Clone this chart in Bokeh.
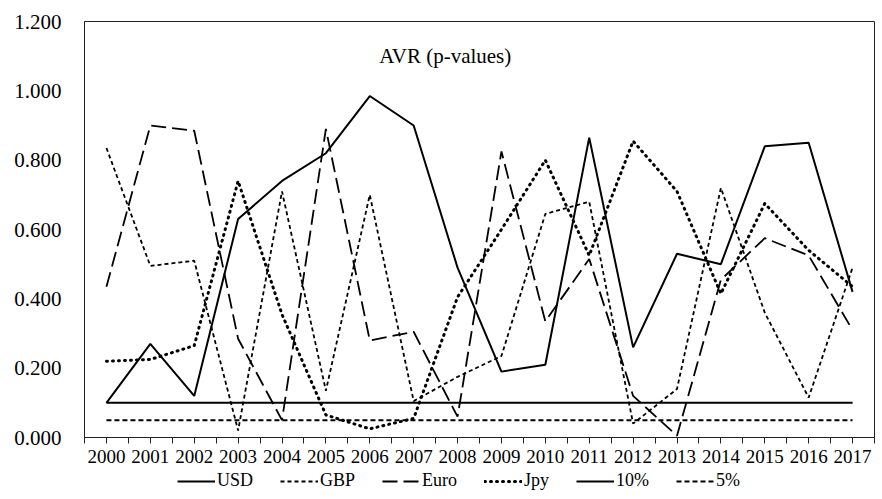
from bokeh.plotting import figure
from bokeh.layouts import column
from bokeh.models import (Range1d, FixedTicker, NumeralTickFormatter, Legend, LegendItem, Label)
from bokeh.embed import file_html
from bokeh.resources import INLINE

years = list(range(2000, 2018))
year_labels = [str(y) for y in years]
usd = [0.10, 0.27, 0.12, 0.63, 0.74, 0.82, 0.985, 0.90, 0.49, 0.19, 0.21, 0.865, 0.26, 0.53, 0.50, 0.84, 0.85, 0.42]
gbp = [0.835, 0.495, 0.51, 0.02, 0.71, 0.135, 0.70, 0.105, 0.175, 0.235, 0.645, 0.68, 0.04, 0.14, 0.72, 0.36, 0.115, 0.49]
euro = [0.435, 0.90, 0.885, 0.285, 0.05, 0.89, 0.28, 0.305, 0.06, 0.825, 0.335, 0.515, 0.12, 0.005, 0.455, 0.575, 0.525, 0.31]
jpy = [0.22, 0.225, 0.265, 0.74, 0.355, 0.065, 0.025, 0.055, 0.405, 0.60, 0.80, 0.525, 0.855, 0.71, 0.415, 0.675, 0.54, 0.435]
ten_pct = [0.10] * len(years)
five_pct = [0.05] * len(years)
y_ticks = [0.0, 0.2, 0.4, 0.6, 0.8, 1.0, 1.2]
series_names = ["USD", "GBP", "Euro", "Jpy", "10%", "5%"]
title_text = "AVR (p-values)"

FONT = "Liberation Serif"

styles = [
    dict(line_color="black", line_width=2),
    dict(line_color="black", line_width=1.8, line_dash="4 3"),
    dict(line_color="black", line_width=1.8, line_dash="15 6"),
    dict(line_color="black", line_width=3, line_dash="1 5", line_cap="round"),
    dict(line_color="black", line_width=2),
    dict(line_color="black", line_width=2, line_dash="5 3"),
]
series = [usd, gbp, euro, jpy, ten_pct, five_pct]

p = figure(width=876, height=470, output_backend="svg", toolbar_location=None,
           x_range=Range1d(1999.5, 2017.5), y_range=Range1d(0, 1.2),
           min_border_left=84, min_border_right=2, min_border_top=21, min_border_bottom=33)
p.grid.visible = False
p.outline_line_color = "#222222"
p.outline_line_width = 1
p.background_fill_color = "white"
p.border_fill_color = "white"

for vals, st in zip(series, styles):
    p.line(years, vals, **st)

# x axis
xa = p.xaxis[0]
xa.ticker = FixedTicker(ticks=years, minor_ticks=[y - 0.5 for y in years] + [years[-1] + 0.5])
xa.major_label_overrides = {y: lab for y, lab in zip(years, year_labels)}
xa.major_tick_in = 0
xa.major_tick_out = 6
xa.minor_tick_in = 0
xa.minor_tick_out = 6
xa.major_tick_line_color = "#222222"
xa.minor_tick_line_color = "#222222"
xa.axis_line_color = "#222222"
xa.major_label_text_font = FONT
xa.major_label_text_font_size = "19px"
xa.major_label_text_color = "black"
xa.major_label_standoff = 6

# y axis
ya = p.yaxis[0]
ya.ticker = FixedTicker(ticks=y_ticks)
ya.formatter = NumeralTickFormatter(format="0.000")
ya.major_tick_in = 0
ya.major_tick_out = 0
ya.minor_tick_in = 0
ya.minor_tick_out = 0
ya.axis_line_color = "#222222"
ya.major_label_text_font = FONT
ya.major_label_text_font_size = "21px"
ya.major_label_text_color = "black"
ya.major_label_standoff = 23

# title inside plot
p.add_layout(Label(x=2007.72, y=1.10, text=title_text, text_font=FONT, text_font_size="21px",
                   text_align="center", text_baseline="middle", text_color="black"))

# legend strip below (its lines lie outside its own visible range; only the legend shows)
lf = figure(width=876, height=29, output_backend="svg", toolbar_location=None,
            x_range=Range1d(0, 1), y_range=Range1d(0, 1),
            min_border_left=0, min_border_right=0, min_border_top=0, min_border_bottom=0)
lf.axis.visible = False
lf.grid.visible = False
lf.outline_line_color = None
lf.background_fill_color = "white"
lf.border_fill_color = "white"

items = []
for name, vals, st in zip(series_names, series, styles):
    r = lf.line(years, vals, **st)
    items.append(LegendItem(label=name, renderers=[r]))

legend = Legend(items=items, orientation="horizontal", location=(93, 8))
legend.label_text_font = FONT
legend.label_text_font_size = "18px"
legend.label_text_color = "black"
legend.glyph_width = 38
legend.glyph_height = 18
legend.label_height = 18
legend.label_standoff = 2
legend.spacing = 27
legend.padding = 0
legend.margin = 0
legend.border_line_color = None
legend.background_fill_alpha = 0
lf.add_layout(legend, "center")

layout = column(p, lf, spacing=0)
open("out.html", "w").write(file_html(layout, INLINE))
